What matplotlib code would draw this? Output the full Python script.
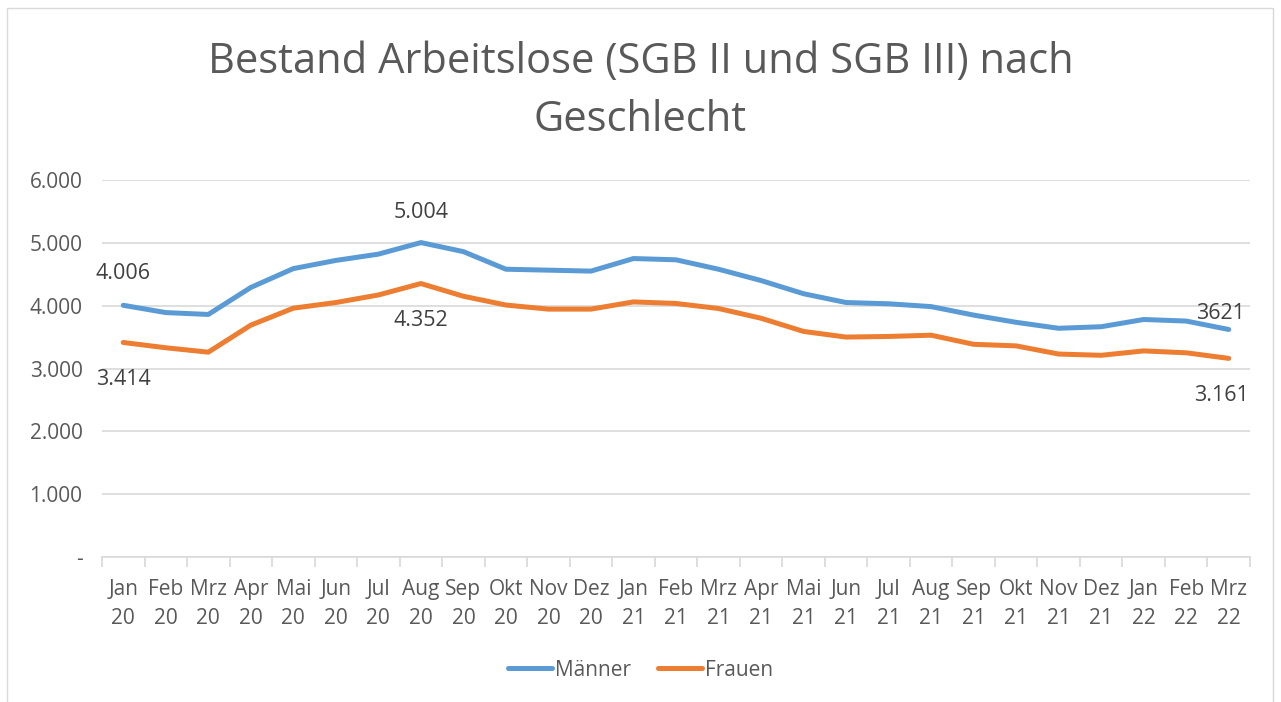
import matplotlib
matplotlib.use("Agg")
import matplotlib.pyplot as plt
from matplotlib.patches import Rectangle
from matplotlib.ticker import FuncFormatter

months = ["Jan", "Feb", "Mrz", "Apr", "Mai", "Jun", "Jul", "Aug", "Sep", "Okt", "Nov", "Dez"]
years = ["20"] * 12 + ["21"] * 12 + ["22"] * 3
categories = [f"{m}\n{y}" for m, y in zip((months * 3)[:27], years)]

maenner = [4006, 3890, 3860, 4290, 4590, 4720, 4820, 5004, 4860, 4580, 4565, 4550,
           4750, 4730, 4580, 4400, 4190, 4050, 4030, 3985, 3850, 3735, 3640, 3665,
           3780, 3755, 3621]
frauen = [3414, 3330, 3260, 3690, 3960, 4050, 4170, 4352, 4150, 4010, 3945, 3945,
          4060, 4035, 3955, 3800, 3590, 3500, 3510, 3530, 3385, 3360, 3230, 3210,
          3280, 3250, 3161]

plt.rcParams['font.family'] = ['Open Sans', 'DejaVu Sans']

fig = plt.figure(figsize=(12.81, 7.02), dpi=100)
fig.patches.append(Rectangle((7 / 1281, -0.01), 1266 / 1281, 1 - 8 / 702 + 0.01,
                             transform=fig.transFigure, fill=False,
                             edgecolor="#d9d9d9", linewidth=1))
ax = fig.add_axes([102 / 1281, 1 - 557 / 702, (1250 - 102) / 1281, (557 - 180) / 702])

x = list(range(len(categories)))
blue = "#5b9bd5"
orange = "#ed7d31"
ax.plot(x, maenner, color=blue, linewidth=3.6, label="Männer", solid_capstyle="round", solid_joinstyle="round")
ax.plot(x, frauen, color=orange, linewidth=3.6, label="Frauen", solid_capstyle="round", solid_joinstyle="round")

ax.set_xlim(-0.5, len(categories) - 0.5)
ax.set_ylim(0, 6000)
ax.set_yticks([0, 1000, 2000, 3000, 4000, 5000, 6000])

def fmt(v, pos):
    if v == 0:
        return "-"
    return f"{int(v):,}".replace(",", ".")

ax.yaxis.set_major_formatter(FuncFormatter(fmt))
ax.grid(axis="y", color="#d9d9d9", linewidth=1.2)
ax.set_axisbelow(True)

ax.set_xticks([i - 0.5 for i in range(len(categories) + 1)])
ax.set_xticklabels([])
ax.set_xticks(x, minor=True)
ax.set_xticklabels(categories, minor=True, fontsize=15, color="#595959", linespacing=1.5)
ax.tick_params(axis="x", which="major", length=7, color="#d9d9d9", width=1.2)
ax.tick_params(axis="x", which="minor", length=0, pad=16)
ax.tick_params(axis="y", length=0, labelsize=15, labelcolor="#595959", pad=14)

for s in ["left", "right", "top"]:
    ax.spines[s].set_visible(False)
ax.spines["bottom"].set_color("#d9d9d9")
ax.spines["bottom"].set_linewidth(1.2)

lab_color = "#404040"
fs = 15.5
ax.annotate(fmt(maenner[0], 0), (0, maenner[0]), xytext=(0, 15), textcoords="offset points",
            ha="center", va="bottom", fontsize=fs, color=lab_color)
ax.annotate(fmt(maenner[7], 0), (7, maenner[7]), xytext=(0, 14), textcoords="offset points",
            ha="center", va="bottom", fontsize=fs, color=lab_color)
ax.annotate(str(maenner[-1]), (26, maenner[-1]), xytext=(-6, 4), textcoords="offset points",
            ha="center", va="bottom", fontsize=fs, color=lab_color)
ax.annotate(fmt(frauen[0], 0), (0, frauen[0]), xytext=(0, -19), textcoords="offset points",
            ha="center", va="top", fontsize=fs, color=lab_color)
ax.annotate(fmt(frauen[7], 0), (7, frauen[7]), xytext=(0, -19), textcoords="offset points",
            ha="center", va="top", fontsize=fs, color=lab_color)
ax.annotate(fmt(frauen[-1], 0), (26, frauen[-1]), xytext=(-5, -19), textcoords="offset points",
            ha="center", va="top", fontsize=fs, color=lab_color)

fig.text(0.5, 1 - 62 / 702, "Bestand Arbeitslose (SGB II und SGB III) nach", ha="center", va="center",
         fontsize=30, color="#595959")
fig.text(0.5, 1 - 120 / 702, "Geschlecht", ha="center", va="center", fontsize=30, color="#595959")

fig.legend(loc="center", bbox_to_anchor=(0.5, 1 - 670 / 702), ncol=2, frameon=False,
           fontsize=15, labelcolor="#595959", handlelength=2.1, handletextpad=0.15,
           columnspacing=1.3)

fig.savefig("out.png", dpi=100, facecolor="white")
